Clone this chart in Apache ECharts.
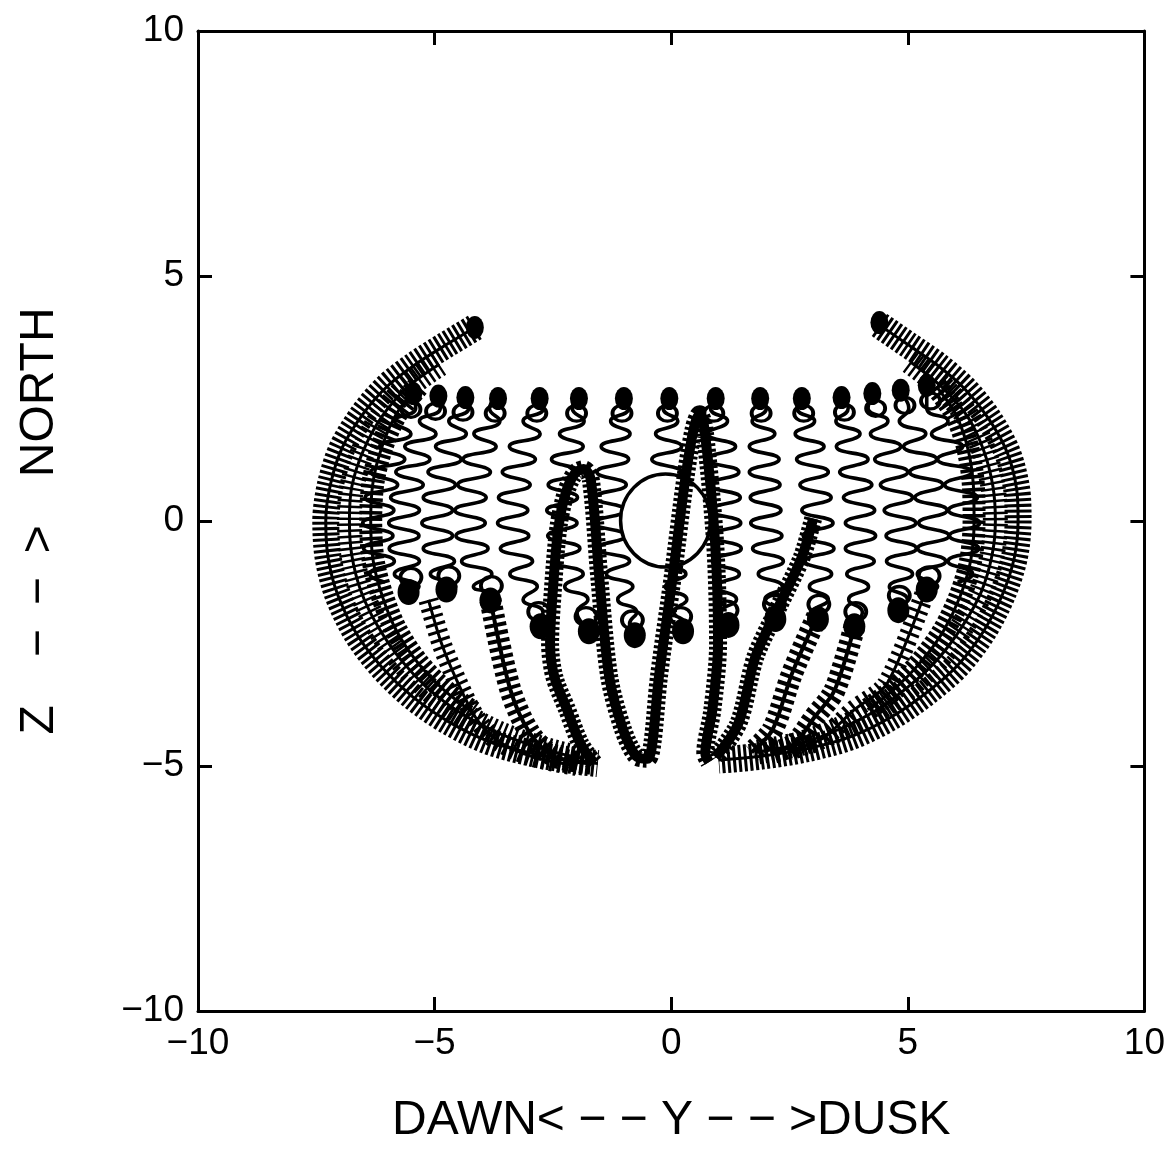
<!DOCTYPE html>
<html>
<head>
<meta charset="utf-8">
<script src="https://cdn.jsdelivr.net/npm/echarts/dist/echarts.min.js"></script>
<style>
  html, body { margin: 0; padding: 0; background: #fff; }
  #chart { width: 1168px; height: 1150px; }
</style>
</head>
<body>
<div id="chart"></div>
<script>
// Axis tick values (Y = dawn/dusk, Z = north)
const yTicks = [-10, -5, 0, 5, 10];
const zTicks = [-10, -5, 0, 5, 10];

// Central obstacle: [y, z, radius]
const obstacle = [[-0.12, 0.01, 0.95]];

// Gyrating trajectories that bounce between the upper and lower mirror rows
const vTrace0 = [[-5.45,2.55],[-5.4,2.3],[-5.85,2.04],[-5.5,1.78],[-6.16,1.52],[-5.63,1.26],[-6.35,1.0],[-5.78,0.74],[-6.47,0.48],[-5.86,0.22],[-6.52,-0.04],[-5.88,-0.3],[-6.5,-0.56],[-5.85,-0.82],[-6.37,-1.08],[-6.05,-1.25]];
const vTrace1 = [[-4.92,2.55],[-4.88,2.3],[-5.32,2.04],[-4.97,1.78],[-5.63,1.52],[-5.1,1.26],[-5.82,1.0],[-5.24,0.74],[-5.93,0.48],[-5.32,0.22],[-5.97,-0.04],[-5.33,-0.3],[-5.96,-0.56],[-5.32,-0.82],[-5.85,-1.08],[-5.33,-1.34],[-5.55,-1.45]];
const vTrace2 = [[-4.35,2.55],[-4.28,2.3],[-4.7,2.04],[-4.33,1.78],[-4.98,1.52],[-4.44,1.26],[-5.14,1.0],[-4.56,0.74],[-5.24,0.48],[-4.62,0.22],[-5.27,-0.04],[-4.62,-0.3],[-5.24,-0.56],[-4.58,-0.82],[-5.09,-1.08],[-4.55,-1.34],[-4.75,-1.5]];
const vTrace3 = [[-3.66,2.55],[-3.84,2.3],[-3.62,2.04],[-4.17,1.78],[-3.7,1.52],[-4.4,1.26],[-3.82,1.0],[-4.51,0.74],[-3.91,0.48],[-4.57,0.22],[-3.93,-0.04],[-4.55,-0.3],[-3.87,-0.56],[-4.43,-0.82],[-3.79,-1.08],[-4.18,-1.34],[-3.7,-1.5],[-3.82,-1.62]];
const vTrace4 = [[-2.78,2.55],[-2.7,2.3],[-3.13,2.04],[-2.77,1.78],[-3.42,1.52],[-2.87,1.26],[-3.57,1.0],[-2.98,0.74],[-3.65,0.48],[-3.03,0.22],[-3.67,-0.04],[-3.01,-0.3],[-3.61,-0.56],[-2.93,-0.82],[-3.41,-1.08],[-2.83,-1.34],[-3.13,-1.6],[-2.71,-1.86],[-2.78,-2.08]];
const vTrace5 = [[-1.95,2.55],[-2.09,2.3],[-1.84,2.04],[-2.36,1.78],[-1.86,1.52],[-2.53,1.26],[-1.93,1.0],[-2.6,0.74],[-1.98,0.48],[-2.63,0.22],[-1.99,-0.04],[-2.61,-0.3],[-1.93,-0.56],[-2.49,-0.82],[-1.86,-1.08],[-2.25,-1.34],[-1.76,-1.6],[-1.99,-1.86],[-1.74,-2.2]];
const vTrace6 = [[-1.0,2.55],[-0.9,2.3],[-1.28,2.04],[-0.87,1.78],[-1.48,1.52],[-0.9,1.26],[-1.57,1.0],[-0.95,0.74],[-1.61,0.48],[-0.98,0.22],[-1.62,-0.04],[-0.96,-0.3],[-1.56,-0.56],[-0.88,-0.82],[-1.37,-1.08],[-0.81,-1.34],[-1.13,-1.6],[-0.73,-1.86],[-0.88,-2.1],[-0.77,-2.3]];
const vTrace7 = [[-0.04,2.55],[-0.17,2.3],[0.14,2.04],[-0.33,1.78],[0.22,1.52],[-0.41,1.26],[0.22,1.0],[-0.42,0.74],[0.22,0.48],[-0.42,0.22],[0.23,-0.04],[-0.4,-0.3],[0.28,-0.56],[-0.3,-0.82],[0.31,-1.08],[-0.12,-1.34],[0.33,-1.6],[0.06,-1.86],[0.3,-2.1],[0.25,-2.23]];
const vTrace8 = [[0.94,2.55],[0.83,2.3],[1.19,2.04],[0.77,1.78],[1.36,1.52],[0.77,1.26],[1.43,1.0],[0.81,0.74],[1.46,0.48],[0.83,0.22],[1.47,-0.04],[0.84,-0.3],[1.48,-0.56],[0.87,-0.82],[1.44,-1.08],[0.97,-1.34],[1.38,-1.6],[1.06,-1.86],[1.25,-2.1]];
const vTrace9 = [[1.88,2.55],[2.01,2.3],[1.71,2.04],[2.19,1.78],[1.65,1.52],[2.28,1.26],[1.65,1.0],[2.3,0.74],[1.67,0.48],[2.32,0.22],[1.68,-0.04],[2.34,-0.3],[1.72,-0.56],[2.37,-0.82],[1.84,-1.08],[2.35,-1.34],[1.98,-1.6],[2.33,-1.86],[2.2,-2.0]];
const vTrace10 = [[2.76,2.55],[2.66,2.3],[3.03,2.04],[2.62,1.78],[3.23,1.52],[2.65,1.26],[3.32,1.0],[2.72,0.74],[3.38,0.48],[2.76,0.22],[3.42,-0.04],[2.79,-0.3],[3.44,-0.56],[2.83,-0.82],[3.39,-1.08],[2.92,-1.34],[3.32,-1.6],[3.01,-1.86],[3.12,-1.98]];
const vTrace11 = [[3.6,2.55],[3.74,2.3],[3.48,2.04],[3.99,1.78],[3.49,1.52],[4.16,1.26],[3.56,1.0],[4.24,0.74],[3.64,0.48],[4.3,0.22],[3.68,-0.04],[4.32,-0.3],[3.68,-0.56],[4.29,-0.82],[3.71,-1.08],[4.17,-1.34],[3.75,-1.6],[4.04,-1.86],[3.87,-2.1]];
const vTrace12 = [[4.25,2.55],[4.16,2.3],[4.58,2.04],[4.21,1.78],[4.85,1.52],[4.3,1.26],[5.0,1.0],[4.42,0.74],[5.1,0.48],[4.5,0.22],[5.17,-0.04],[4.54,-0.3],[5.18,-0.56],[4.55,-0.82],[5.1,-1.08],[4.61,-1.34],[4.99,-1.6],[4.8,-1.8]];
const vTrace13 = [[4.85,2.6],[5.02,2.3],[4.82,2.04],[5.38,1.78],[4.91,1.52],[5.61,1.26],[5.04,1.0],[5.74,0.74],[5.15,0.48],[5.83,0.22],[5.23,-0.04],[5.87,-0.3],[5.21,-0.56],[5.8,-0.82],[5.2,-1.08],[5.63,-1.34],[5.4,-1.42]];
const vTrace14 = [[5.4,2.7],[5.4,2.3],[5.85,2.04],[5.5,1.78],[6.16,1.52],[5.63,1.26],[6.35,1.0],[5.78,0.74],[6.47,0.48],[5.86,0.22],[6.52,-0.04],[5.88,-0.3],[6.5,-0.56],[5.85,-0.82],[6.37,-1.08],[6.05,-1.25]];

// Tight coils at the mirror points, and the first open loops next to them
const topMirror = [[-5.45,2.6],[-4.92,2.55],[-4.35,2.52],[-3.66,2.5],[-2.78,2.5],[-1.95,2.5],[-1.0,2.5],[-0.04,2.5],[0.94,2.5],[1.88,2.5],[2.76,2.5],[3.6,2.52],[4.25,2.6],[4.85,2.67],[5.4,2.77],[-4.15,3.95],[4.4,4.05]];
const topLoops = [[-5.5,2.28],[-4.98,2.24],[-4.4,2.22],[-3.72,2.2],[-2.84,2.2],[-2.0,2.2],[-1.04,2.2],[-0.08,2.2],[0.9,2.2],[1.9,2.2],[2.8,2.2],[3.66,2.22],[4.32,2.3],[4.94,2.36],[5.48,2.45]];
const bottomMirror = [[-5.55,-1.45],[-4.75,-1.4],[-3.82,-1.62],[-2.76,-2.15],[-1.74,-2.25],[-0.77,-2.33],[0.25,-2.25],[1.21,-2.12],[2.2,-2.0],[3.1,-2.0],[3.87,-2.15],[4.8,-1.82],[5.4,-1.4]];
const bottomLoops = [[-5.5,-1.15],[-4.7,-1.12],[-3.8,-1.32],[-2.8,-1.85],[-1.8,-1.95],[-0.82,-2.02],[0.2,-1.95],[1.18,-1.82],[2.18,-1.7],[3.12,-1.7],[3.9,-1.85],[4.82,-1.52],[5.45,-1.12]];

// Guiding-centre paths of the outer drift shells
const shellL1 = [[-4.15,3.95],[-4.75,3.6],[-5.4,3.2],[-6.0,2.75],[-6.5,2.2],[-6.95,1.5],[-7.2,0.75],[-7.3,0.0],[-7.25,-0.75],[-7.05,-1.5],[-6.65,-2.3],[-6.1,-3.0],[-5.45,-3.6],[-4.7,-4.1],[-3.85,-4.5],[-2.9,-4.75],[-2.0,-4.9],[-1.55,-4.95]];
const shellL2 = [[-4.9,3.2],[-5.55,2.75],[-6.1,2.15],[-6.5,1.45],[-6.75,0.7],[-6.8,0.0],[-6.75,-0.7],[-6.55,-1.45],[-6.2,-2.15],[-5.7,-2.85],[-5.1,-3.45],[-4.4,-3.95],[-3.6,-4.35],[-2.7,-4.65],[-1.9,-4.85]];
const shellL3 = [[-5.35,2.75],[-5.8,2.2],[-6.1,1.55],[-6.3,0.8],[-6.35,0.0],[-6.3,-0.8],[-6.1,-1.55],[-5.8,-2.25],[-5.35,-2.9],[-4.8,-3.45],[-4.2,-3.9]];
const shellR1 = [[4.4,4.0],[5.0,3.6],[5.6,3.2],[6.2,2.7],[6.7,2.1],[7.1,1.4],[7.3,0.65],[7.33,0.0],[7.25,-0.75],[7.0,-1.5],[6.6,-2.25],[6.05,-2.95],[5.4,-3.5],[4.65,-4.0],[3.8,-4.4],[2.85,-4.65],[1.9,-4.8],[1.0,-4.88]];
const shellR2 = [[5.05,3.25],[5.7,2.75],[6.25,2.15],[6.6,1.45],[6.8,0.7],[6.85,0.0],[6.78,-0.7],[6.55,-1.45],[6.15,-2.15],[5.65,-2.8],[5.05,-3.35],[4.35,-3.85],[3.55,-4.25],[2.7,-4.55],[1.8,-4.72]];
const shellR3 = [[5.6,2.75],[6.0,2.2],[6.25,1.55],[6.38,0.8],[6.4,0.0],[6.33,-0.8],[6.1,-1.55],[5.75,-2.25],[5.3,-2.85],[4.75,-3.4],[4.15,-3.85]];

// Drifting particles that sink to the lower mirror row
const wPath = [[-1.63,-4.94],[-1.92,-4.54],[-2.2,-3.85],[-2.47,-3.18],[-2.56,-2.5],[-2.5,-1.4],[-2.38,-0.1],[-2.22,0.6],[-2.03,0.98],[-1.85,1.06],[-1.7,0.85],[-1.52,-1.15],[-1.31,-3.18],[-1.02,-4.25],[-0.74,-4.8],[-0.5,-4.85],[-0.4,-4.55],[-0.26,-3.18],[0.03,-1.15],[0.3,0.88],[0.48,1.9],[0.6,2.18],[0.7,1.9],[0.93,-0.48],[0.99,-2.51],[0.87,-3.85],[0.72,-4.74],[0.8,-4.92]];
const diagPath = [[3.0,0.05],[2.76,-0.74],[2.27,-1.75],[1.78,-2.77],[1.42,-4.13],[0.94,-4.82]];
const ladderR1 = [[3.08,-1.95],[2.55,-3.12],[2.14,-4.26],[1.7,-4.72]];
const ladderR2 = [[3.87,-2.16],[3.45,-3.46],[3.03,-4.0],[2.6,-4.55],[2.1,-4.75]];
const zigR = [[5.4,-1.35],[4.56,-3.32],[3.87,-3.85],[3.18,-4.45],[2.5,-4.68]];
const ladderL1 = [[-3.82,-1.61],[-3.4,-3.44],[-2.98,-4.34],[-2.48,-4.8],[-1.7,-4.95]];
const zigL = [[-5.13,-1.61],[-4.85,-2.51],[-4.5,-3.32],[-4.14,-4.0],[-3.72,-4.45],[-2.97,-4.8],[-2.0,-5.0]];

const FONT = "'Liberation Sans', Arial, sans-serif";
const INK = '#000';

function wiggle(data) {
  return { type: 'line', data, smooth: 0.55, showSymbol: false, silent: true, z: 2,
           lineStyle: { color: INK, width: 3.6 } };
}
function coil(data, width, dash, z) {
  return { type: 'line', data, smooth: 0.3, showSymbol: false, silent: true, z: z || 2,
           lineStyle: { color: INK, width, type: dash, cap: 'butt' } };
}
function spine(data, width, z) {
  return { type: 'line', data, smooth: 0.3, showSymbol: false, silent: true, z: z || 2,
           lineStyle: { color: INK, width } };
}
function dots(data, size, filled) {
  return { type: 'scatter', data, symbol: 'circle', symbolSize: size, silent: true, z: 2,
           itemStyle: filled ? { color: INK, opacity: 1 }
                             : { color: 'rgba(0,0,0,0)', borderColor: INK, borderWidth: 3.6, opacity: 1 } };
}

const wiggles = [vTrace0, vTrace1, vTrace2, vTrace3, vTrace4, vTrace5, vTrace6, vTrace7,
                 vTrace8, vTrace9, vTrace10, vTrace11, vTrace12, vTrace13, vTrace14];

const series = [];
wiggles.forEach(d => series.push(wiggle(d)));
// each shell: a wide coil texture plus a thin guiding line
[[shellL1, 27, [3, 2.5]], [shellL2, 25, [2.5, 3.5]], [shellL3, 23, [3.5, 3]],
 [shellR1, 27, [3, 2.5]], [shellR2, 25, [2.5, 3.5]], [shellR3, 23, [3.5, 3]]].forEach(([d, w, dash]) => {
  series.push(coil(d, w, dash));
  series.push(spine(d, 3));
});
[ladderL1, ladderR1, ladderR2].forEach(d => {
  series.push(coil(d, 22, [4, 4], 2));
  series.push(spine(d, 4, 2));
});
[zigL, zigR].forEach(d => {
  series.push(coil(d, 20, [3, 5], 2));
  series.push(spine(d, 3, 2));
});
series.push(dots(topLoops, [19, 16], false));
series.push(dots(bottomLoops, [21, 18], false));
series.push(dots(topMirror, [18, 23], true));
series.push(dots(bottomMirror, [22, 26], true));
series.push({
  type: 'custom', data: obstacle, silent: true, z: 3,
  renderItem(params, api) {
    const c = api.coord([api.value(0), api.value(1)]);
    const s = api.size([api.value(2), api.value(2)]);
    return { type: 'ellipse', shape: { cx: c[0], cy: c[1], rx: s[0], ry: s[1] },
             style: { fill: '#fff', stroke: INK, lineWidth: 3.5 } };
  }
});
[wPath, diagPath].forEach(d => {
  series.push(spine(d, 10, 4));
  series.push(coil(d, 18, [3, 2.5], 4));
});

const tickLabel = v => (v < 0 ? '\u2212' + Math.abs(v) : String(v));
const baseAxis = {
  min: -10, max: 10, interval: 5,
  axisLine: { show: true, onZero: false, lineStyle: { color: INK, width: 3 } },
  axisTick: { show: true, inside: true, length: 14, lineStyle: { color: INK, width: 3 } },
  splitLine: { show: false }
};

const option = {
  animation: false,
  backgroundColor: '#fff',
  grid: { left: 198, right: 15, top: 31, bottom: 134 },
  xAxis: [
    Object.assign({}, baseAxis, {
      type: 'value', position: 'bottom',
      axisLabel: { show: true, margin: 14, color: INK, fontSize: 37, fontFamily: FONT,
                   formatter: v => yTicks.includes(v) ? tickLabel(v) : '' },
      name: 'DAWN< \u2212 \u2212 Y \u2212 \u2212 >DUSK',
      nameLocation: 'middle', nameGap: 86,
      nameTextStyle: { color: INK, fontSize: 48, fontFamily: FONT }
    }),
    Object.assign({}, baseAxis, { type: 'value', position: 'top', axisLabel: { show: false } })
  ],
  yAxis: [
    Object.assign({}, baseAxis, {
      type: 'value', position: 'left',
      axisLabel: { show: true, margin: 14, color: INK, fontSize: 37, fontFamily: FONT,
                   formatter: v => zTicks.includes(v) ? tickLabel(v) : '' },
      name: 'Z\u2003\u2212\u2002\u2212\u2002>\u2003NORTH',
      nameLocation: 'middle', nameGap: 134, nameRotate: 90,
      nameTextStyle: { color: INK, fontSize: 48, fontFamily: FONT }
    }),
    Object.assign({}, baseAxis, { type: 'value', position: 'right', axisLabel: { show: false } })
  ],
  series
};

const chart = echarts.init(document.getElementById('chart'), null, { renderer: 'canvas' });
chart.setOption(option);
</script>
</body>
</html>
